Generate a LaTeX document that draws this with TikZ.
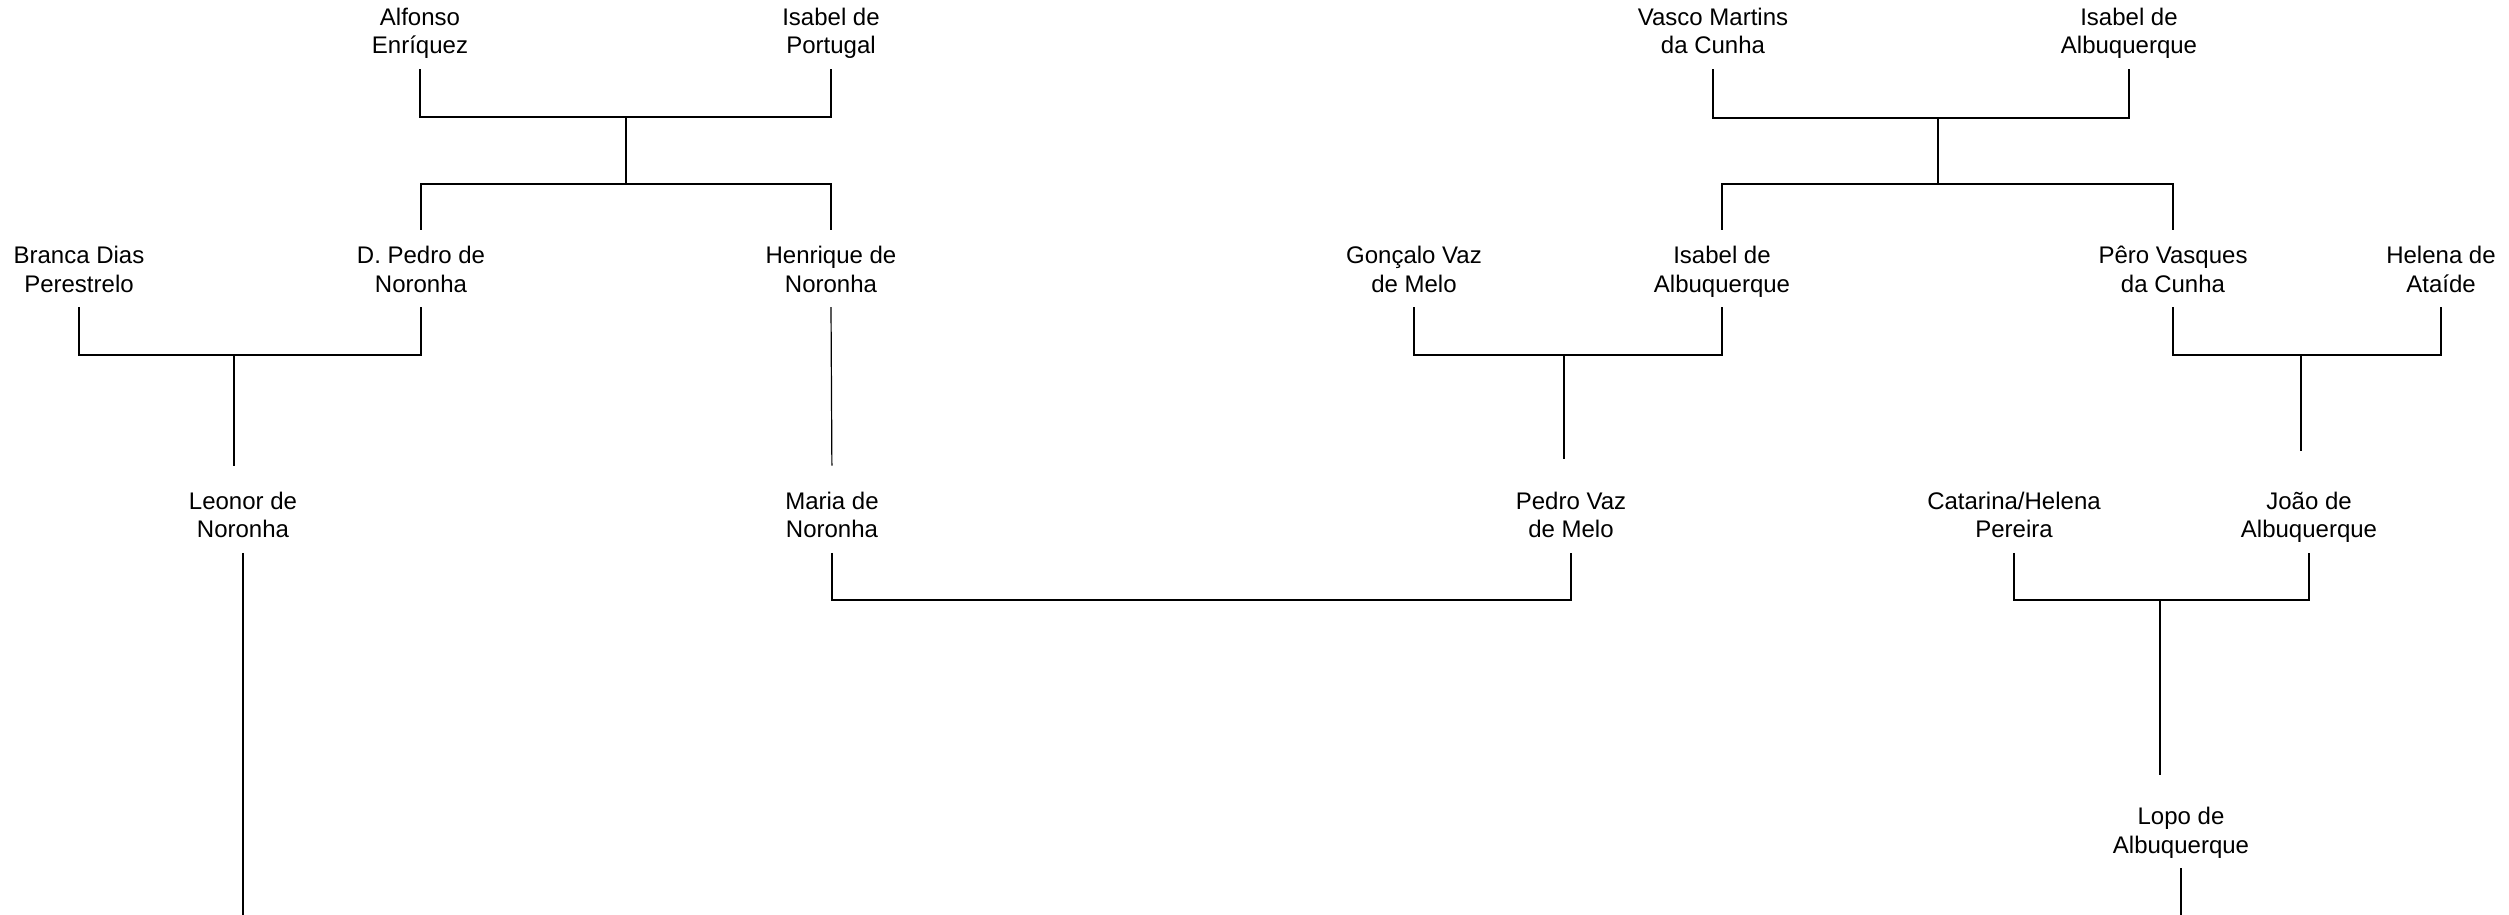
\documentclass[tikz,border=0pt]{standalone}
\usepackage{fontspec}
\setmainfont{Liberation Sans}
\begin{document}
\begin{tikzpicture}[x=1pt,y=-1pt,
  person/.style={align=center,font=\fontsize{24}{28.5}\selectfont,inner xsep=0pt,inner ysep=6.45pt},
  link/.style={line width=1.2pt,black}]
\useasboundingbox (0,0) rectangle (2509,915);
\newcommand\twol[2]{\strut #1\\\strut #2}
% row 1
\node[person] (alf) at (420,34.05) {\twol{Alfonso}{Enríquez}};
\node[person] (isp) at (831,34.05) {\twol{Isabel de}{Portugal}};
\node[person] (vas) at (1713,34.05) {\twol{Vasco Martins}{da Cunha}};
\node[person] (iab1) at (2129,34.05) {\twol{Isabel de}{Albuquerque}};
% row 2
\node[person] (bdp) at (79,272.05) {\twol{Branca Dias}{Perestrelo}};
\node[person] (dpn) at (421,272.05) {\twol{D. Pedro de}{Noronha}};
\node[person] (hen) at (831,272.05) {\twol{Henrique de}{Noronha}};
\node[person] (gvm) at (1414,272.05) {\twol{Gonçalo Vaz}{de Melo}};
\node[person] (iab2) at (1722,272.05) {\twol{Isabel de}{Albuquerque}};
\node[person] (pvc) at (2173,272.05) {\twol{Pêro Vasques}{da Cunha}};
\node[person] (hat) at (2441,272.05) {\twol{Helena de}{Ataíde}};
% row 3
\node[person] (leo) at (243,517.75) {\twol{Leonor de}{Noronha}};
\node[person] (mar) at (832,517.75) {\twol{Maria de}{Noronha}};
\node[person] (pvm) at (1571,517.75) {\twol{Pedro Vaz}{de Melo}};
\node[person] (cat) at (2014,517.75) {\twol{Catarina/Helena}{Pereira}};
\node[person] (joa) at (2309,517.75) {\twol{João de}{Albuquerque}};
% row 4
\node[person] (lop) at (2181,833.05) {\twol{Lopo de}{Albuquerque}};
% junctions
\coordinate (m1) at (626,117);
\coordinate (s1) at (626,184);
\coordinate (m2) at (1938,118);
\coordinate (s2) at (1938,184);
\coordinate (m3) at (234,355);
\coordinate (m4) at (1564,355);
\coordinate (m5) at (2301,355);
\coordinate (m6) at (1200,600);
\coordinate (m7) at (2160,600);
\coordinate (bottom) at (0,915);
% generation 1
\draw[link] (alf.south) |- (m1) -| (isp.south);
\draw[link] (m1) -- (s1);
\draw[link,shorten >=7pt] (s1) -| (dpn.north);
\draw[link,shorten >=7pt] (s1) -| (hen.north);
\draw[link] (vas.south) |- (m2) -| (iab1.south);
\draw[link] (m2) -- (s2);
\draw[link,shorten >=7pt] (s2) -| (iab2.north);
\draw[link,shorten >=7pt] (s2) -| (pvc.north);
% generation 2
\draw[link] (bdp.south) |- (m3) -| (dpn.south);
\draw[link,shorten >=17pt] (m3) -- (m3 |- leo.north);
\draw[link,shorten >=17pt] (hen.south) -- (mar.north);
\draw[link] (gvm.south) |- (m4) -| (iab2.south);
\draw[link,shorten >=24pt] (m4) -- (m4 |- pvm.north);
\draw[link] (pvc.south) |- (m5) -| (hat.south);
\draw[link,shorten >=32pt] (m5) -- (m5 |- joa.north);
% generation 3
\draw[link] (leo.south) -- (leo.south |- bottom);
\draw[link] (mar.south) |- (m6) -| (pvm.south);
\draw[link] (cat.south) |- (m7) -| (joa.south);
\draw[link,shorten >=23pt] (m7) -- (m7 |- lop.north);
% generation 4
\draw[link] (lop.south) -- (lop.south |- bottom);
\end{tikzpicture}
\end{document}
